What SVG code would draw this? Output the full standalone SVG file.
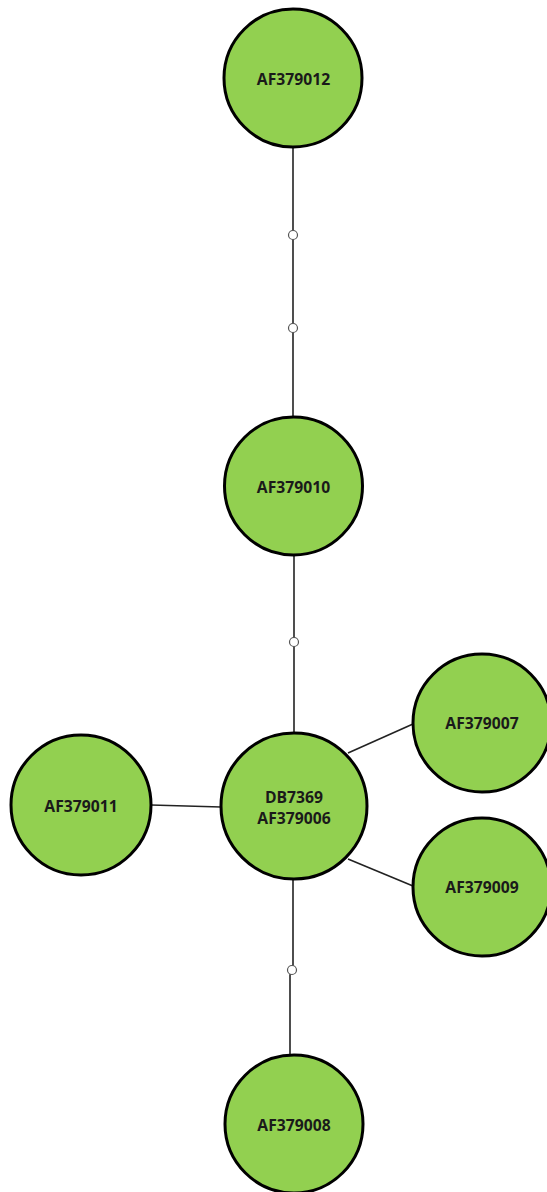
<svg xmlns="http://www.w3.org/2000/svg" width="547" height="1192" viewBox="0 0 547 1192">
<style>
.node{fill:#92d050;stroke:#000;stroke-width:3}
.lbl{font-family:"Open Sans","Liberation Sans",sans-serif;font-weight:700;font-size:15.7px;fill:#1a1a1a;text-anchor:middle;dominant-baseline:central}
.edge{stroke:#222;stroke-width:1.6;fill:none}
.mv{fill:#fff;stroke:#555;stroke-width:1.2}
</style>
<rect width="547" height="1192" fill="#fff"/>
<g id="connectors">
<line class="edge" x1="293" y1="147" x2="293" y2="417"/>
<line class="edge" x1="294" y1="555" x2="294" y2="733"/>
<polyline class="edge" points="293,880 293,970 290,975 290,1055"/>
<line class="edge" x1="151" y1="805" x2="221" y2="807"/>
<line class="edge" x1="348" y1="753" x2="413" y2="724"/>
<line class="edge" x1="348" y1="859" x2="413" y2="886"/>
<circle class="mv" cx="293" cy="235" r="4.5"/>
<circle class="mv" cx="293" cy="328" r="4.5"/>
<circle class="mv" cx="294" cy="642" r="4.5"/>
<circle class="mv" cx="292" cy="970" r="4.5"/>
</g>
<g id="AF379012"><circle class="node" cx="293" cy="78" r="69"/><text class="lbl" x="293.5" y="78.5">AF379012</text></g>
<g id="AF379010"><circle class="node" cx="293.5" cy="486" r="69"/><text class="lbl" x="293.5" y="487">AF379010</text></g>
<g id="DB7369"><circle class="node" cx="294" cy="806" r="73"/><text class="lbl" x="294" y="797">DB7369</text><text class="lbl" x="294" y="818">AF379006</text></g>
<g id="AF379007"><circle class="node" cx="482" cy="723" r="69"/><text class="lbl" x="482" y="723">AF379007</text></g>
<g id="AF379009"><circle class="node" cx="482" cy="887" r="69"/><text class="lbl" x="482" y="887">AF379009</text></g>
<g id="AF379011"><circle class="node" cx="81" cy="805" r="70"/><text class="lbl" x="81" y="806">AF379011</text></g>
<g id="AF379008"><circle class="node" cx="294" cy="1124" r="69"/><text class="lbl" x="294" y="1125">AF379008</text></g>
</svg>
